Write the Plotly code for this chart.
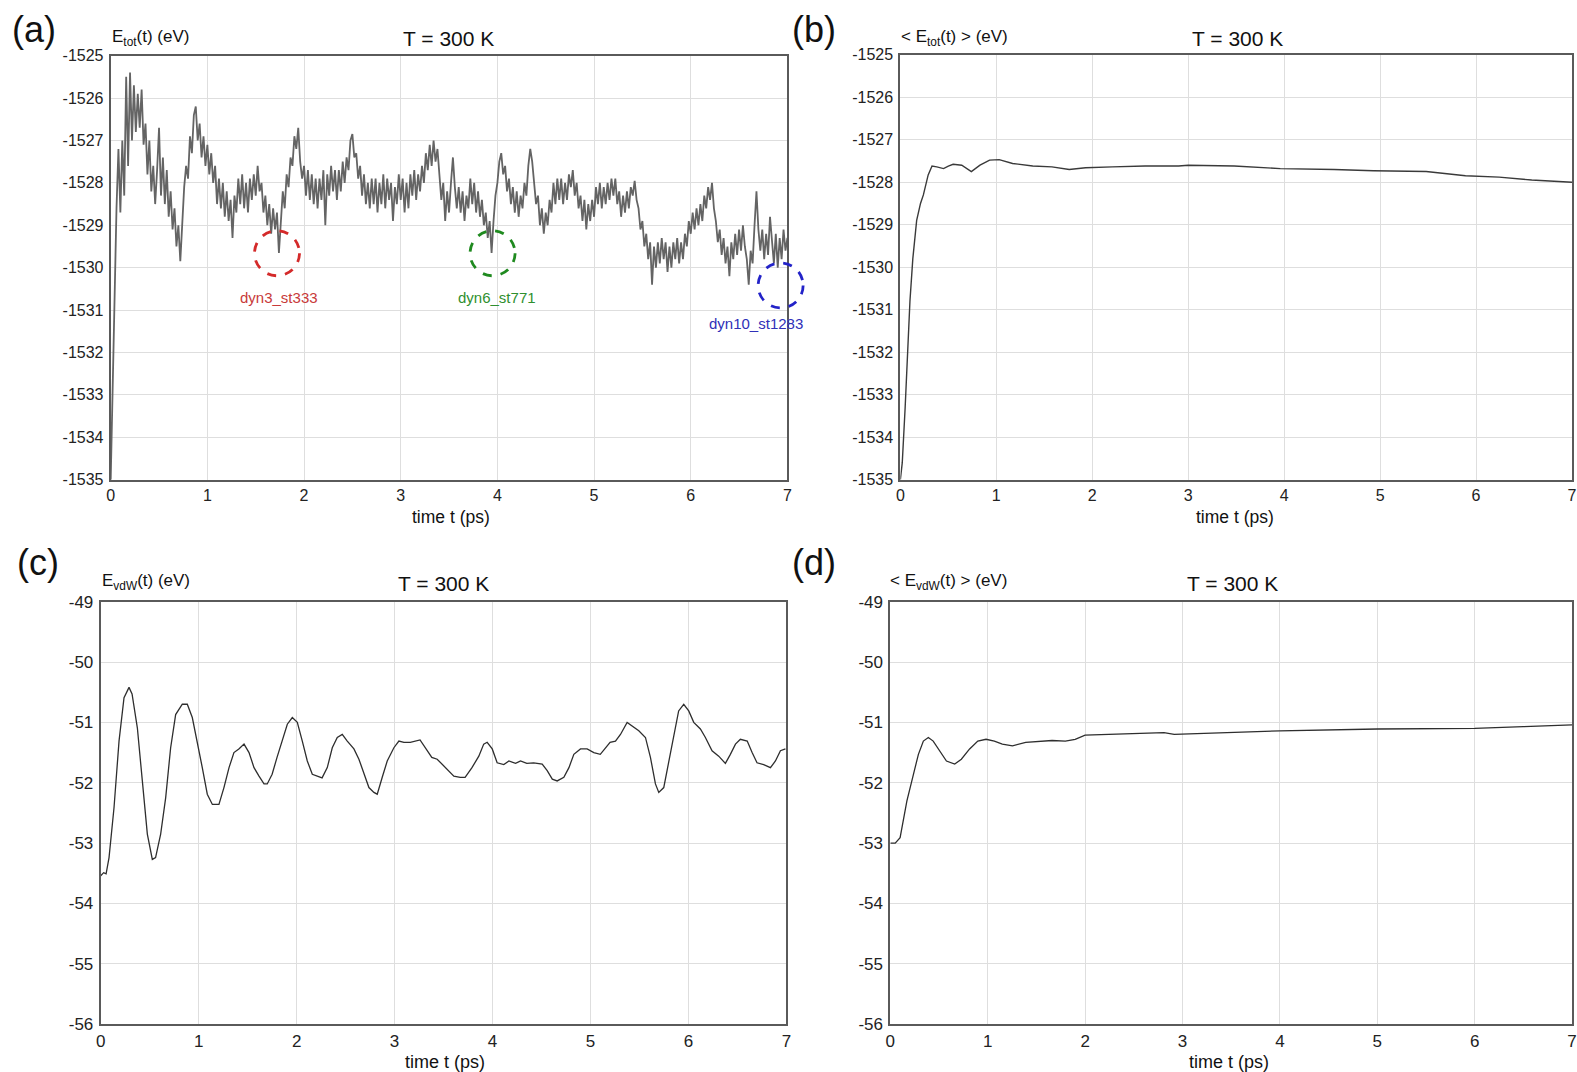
import plotly.graph_objects as go

# ---------------------------------------------------------------------------
# Data (energies in eV, time in ps)
# ---------------------------------------------------------------------------

# (a) instantaneous total energy, sampled every DT_A ps
DT_A = 0.02
e_tot = [
    -1535.0, -1532.8, -1530.6, -1528.6, -1527.2, -1528.7, -1527.0, -1528.3, -1525.5, -1527.6,
    -1525.4, -1527.0, -1525.7, -1526.8, -1525.9, -1526.7, -1525.8, -1527.1, -1526.6, -1527.8,
    -1527.0, -1528.2, -1527.6, -1528.5, -1527.7, -1526.7, -1528.3, -1527.4, -1528.5, -1527.7,
    -1528.8, -1528.2, -1529.1, -1528.6, -1529.5, -1529.0, -1529.85, -1528.9, -1528.1, -1527.6,
    -1527.9, -1526.9, -1527.3, -1526.4, -1526.2, -1527.0, -1526.6, -1527.4, -1526.9, -1527.6,
    -1527.1, -1527.8, -1527.3, -1528.0, -1527.6, -1528.5, -1527.9, -1528.6, -1528.0, -1528.8,
    -1528.2, -1528.9, -1528.4, -1529.3, -1528.3, -1528.7, -1527.9, -1528.5, -1527.8, -1528.6,
    -1528.0, -1528.7, -1527.9, -1528.4, -1527.8, -1528.3, -1527.6, -1528.2, -1528.0, -1528.7,
    -1528.3, -1529.0, -1528.5, -1529.2, -1528.6, -1529.1, -1528.7, -1529.65, -1528.8, -1528.2,
    -1528.6, -1527.8, -1528.1, -1527.4, -1527.6, -1526.9, -1527.2, -1526.7, -1527.5, -1527.9,
    -1527.6, -1528.3, -1527.7, -1528.4, -1527.8, -1528.5, -1527.9, -1528.6, -1527.9, -1528.4,
    -1527.7, -1529.0, -1527.8, -1528.3, -1527.6, -1528.2, -1527.7, -1528.4, -1527.7, -1528.2,
    -1527.5, -1528.0, -1527.4, -1527.7, -1527.0, -1526.85, -1527.4, -1527.3, -1527.9, -1527.6,
    -1528.3, -1527.8, -1528.5, -1528.0, -1528.6, -1527.9, -1528.5, -1527.9, -1528.7, -1528.0,
    -1528.5, -1527.8, -1528.6, -1527.9, -1528.4, -1528.0, -1528.9, -1528.1, -1528.5, -1527.8,
    -1528.4, -1527.9, -1528.7, -1528.0, -1528.6, -1527.8, -1528.3, -1527.7, -1528.4, -1527.8,
    -1528.2, -1527.6, -1528.0, -1527.3, -1527.7, -1527.1, -1527.6, -1527.0, -1527.5, -1527.2,
    -1527.8, -1528.4, -1528.0, -1528.9, -1528.2, -1528.7, -1528.0, -1527.4, -1528.1, -1528.6,
    -1528.1, -1528.7, -1528.2, -1528.9, -1528.3, -1528.6, -1527.9, -1528.5, -1528.0, -1528.7,
    -1528.2, -1528.8, -1528.4, -1529.0, -1528.7, -1529.3, -1528.9, -1529.65, -1528.9, -1528.3,
    -1528.0, -1527.5, -1527.3, -1527.8, -1527.6, -1528.2, -1527.9, -1528.5, -1528.1, -1528.7,
    -1528.2, -1528.8, -1528.3, -1528.6, -1528.0, -1528.3, -1527.6, -1527.2, -1527.5, -1528.0,
    -1528.5, -1528.3, -1529.0, -1528.6, -1529.2, -1528.7, -1529.0, -1528.4, -1528.7, -1528.0,
    -1528.5, -1527.9, -1528.4, -1527.9, -1528.5, -1528.0, -1528.4, -1527.8, -1528.1, -1527.7,
    -1528.3, -1528.0, -1528.6, -1528.3, -1528.9, -1528.4, -1529.1, -1528.5, -1528.9, -1528.4,
    -1528.8, -1528.1, -1528.5, -1528.0, -1528.6, -1528.1, -1528.5, -1528.0, -1528.4, -1527.9,
    -1528.3, -1527.9, -1528.5, -1528.2, -1528.8, -1528.3, -1528.7, -1528.2, -1528.6, -1528.1,
    -1528.3, -1527.95, -1528.4, -1528.6, -1529.1, -1528.9, -1529.5, -1529.2, -1529.8, -1529.4,
    -1530.4, -1529.5, -1530.0, -1529.4, -1529.9, -1529.3, -1529.8, -1529.4, -1530.1, -1529.5,
    -1530.0, -1529.4, -1529.8, -1529.3, -1529.9, -1529.4, -1529.8, -1529.2, -1529.5, -1528.9,
    -1529.2, -1528.7, -1529.1, -1528.6, -1529.0, -1528.5, -1528.9, -1528.3, -1528.6, -1528.1,
    -1528.4, -1528.0, -1528.6, -1528.9, -1529.4, -1529.1, -1529.7, -1529.3, -1529.9, -1529.5,
    -1530.2, -1529.4, -1529.8, -1529.2, -1529.7, -1529.1, -1529.6, -1529.0, -1529.5, -1529.8,
    -1530.4, -1529.6, -1529.9, -1529.0, -1528.2, -1529.1, -1529.6, -1529.1, -1529.8, -1529.2,
    -1529.7, -1528.8, -1529.4, -1529.9, -1529.2, -1530.0, -1529.3, -1529.8, -1529.1, -1529.6,
    -1529.3,
]
t_a = [round(i * DT_A, 2) for i in range(len(e_tot))]

# selected snapshots marked on (a)
snap_names = ["dyn3_st333", "dyn6_st771", "dyn10_st1283"]
snap_t = [1.72, 3.95, 6.93]
snap_e = [-1529.66, -1529.66, -1530.42]
snap_colors = ["#d42a2a", "#1f8a1f", "#2323c8"]
snap_text_colors = ["#c83a3a", "#2f8f2f", "#3030b8"]

# (b) running average of the total energy
t_b = [0.0, 0.02, 0.05, 0.08, 0.10, 0.13, 0.17, 0.21, 0.24, 0.29, 0.33, 0.38, 0.45, 0.50,
       0.55, 0.64, 0.70, 0.74, 0.83, 0.93, 1.03, 1.17, 1.38, 1.58, 1.76, 1.93, 2.21, 2.55,
       2.90, 3.00, 3.48, 3.96, 4.52, 4.93, 5.48, 5.89, 6.24, 6.58, 7.0]
e_tot_avg = [-1535.0, -1534.6, -1533.3, -1531.8, -1530.8, -1529.8, -1528.9, -1528.5, -1528.3,
             -1527.83, -1527.62, -1527.64, -1527.68, -1527.62, -1527.58, -1527.6, -1527.7,
             -1527.75, -1527.6, -1527.48, -1527.47, -1527.56, -1527.62, -1527.64, -1527.70,
             -1527.66, -1527.64, -1527.62, -1527.62, -1527.6, -1527.62, -1527.68, -1527.70,
             -1527.73, -1527.75, -1527.85, -1527.88, -1527.95, -1528.0]

# (c) instantaneous van der Waals energy
t_c = [0.0, 0.03, 0.055, 0.085, 0.136, 0.187, 0.238, 0.289, 0.32, 0.374, 0.425, 0.476, 0.527,
       0.56, 0.612, 0.663, 0.714, 0.765, 0.833, 0.884, 0.935, 0.986, 1.037, 1.088, 1.14,
       1.207, 1.258, 1.31, 1.36, 1.41, 1.463, 1.514, 1.565, 1.616, 1.667, 1.70, 1.75, 1.80,
       1.854, 1.905, 1.956, 2.007, 2.058, 2.109, 2.16, 2.21, 2.26, 2.313, 2.364, 2.415,
       2.466, 2.517, 2.585, 2.636, 2.687, 2.738, 2.789, 2.823, 2.874, 2.925, 2.993, 3.044,
       3.095, 3.16, 3.26, 3.32, 3.38, 3.435, 3.52, 3.605, 3.67, 3.72, 3.79, 3.86, 3.91,
       3.945, 3.997, 4.047, 4.115, 4.167, 4.235, 4.286, 4.35, 4.42, 4.507, 4.558, 4.61,
       4.66, 4.728, 4.78, 4.83, 4.898, 4.966, 5.034, 5.1, 5.153, 5.2, 5.255, 5.306, 5.374,
       5.425, 5.493, 5.561, 5.612, 5.663, 5.697, 5.748, 5.8, 5.85, 5.9, 5.952, 6.003,
       6.054, 6.122, 6.173, 6.241, 6.309, 6.377, 6.428, 6.48, 6.53, 6.6, 6.65, 6.7, 6.768,
       6.837, 6.888, 6.939, 6.99]
e_vdw = [-53.54, -53.49, -53.51, -53.24, -52.41, -51.31, -50.59, -50.42, -50.53, -51.09,
         -51.97, -52.85, -53.27, -53.24, -52.85, -52.25, -51.42, -50.87, -50.70, -50.70,
         -50.92, -51.31, -51.75, -52.19, -52.36, -52.36, -52.08, -51.75, -51.50, -51.44,
         -51.36, -51.50, -51.75, -51.89, -52.02, -52.02, -51.86, -51.58, -51.31, -51.03,
         -50.92, -51.00, -51.31, -51.64, -51.86, -51.89, -51.92, -51.75, -51.42, -51.25,
         -51.20, -51.31, -51.44, -51.61, -51.86, -52.08, -52.16, -52.19, -51.91, -51.64,
         -51.42, -51.31, -51.33, -51.33, -51.29, -51.44, -51.58, -51.61, -51.75, -51.89,
         -51.91, -51.91, -51.75, -51.56, -51.36, -51.33, -51.44, -51.67, -51.70, -51.64,
         -51.68, -51.64, -51.68, -51.67, -51.69, -51.80, -51.94, -51.97, -51.91, -51.75,
         -51.53, -51.44, -51.44, -51.50, -51.53, -51.42, -51.33, -51.31, -51.20, -51.00,
         -51.06, -51.14, -51.25, -51.58, -52.02, -52.16, -52.08, -51.64, -51.20, -50.81,
         -50.70, -50.81, -51.00, -51.11, -51.25, -51.47, -51.56, -51.68, -51.53, -51.36,
         -51.28, -51.31, -51.50, -51.67, -51.70, -51.75, -51.64, -51.47, -51.44]

# (d) running average of the van der Waals energy
t_d = [0.0, 0.05, 0.10, 0.17, 0.237, 0.288, 0.339, 0.39, 0.44, 0.508, 0.576, 0.661, 0.729,
       0.814, 0.898, 0.983, 1.068, 1.15, 1.254, 1.39, 1.525, 1.661, 1.797, 1.898, 2.0,
       2.17, 2.373, 2.54, 2.71, 2.81, 2.915, 3.085, 4.0, 5.0, 6.0, 6.5, 7.0]
e_vdw_avg = [-53.0, -53.0, -52.91, -52.30, -51.86, -51.53, -51.31, -51.25, -51.31, -51.47,
             -51.64, -51.69, -51.61, -51.44, -51.31, -51.28, -51.31, -51.36, -51.39, -51.33,
             -51.31, -51.30, -51.31, -51.28, -51.21, -51.20, -51.19, -51.18, -51.17, -51.17,
             -51.20, -51.19, -51.14, -51.11, -51.10, -51.07, -51.04]

# axis ticks
x_ticks = [0, 1, 2, 3, 4, 5, 6, 7]
y_ticks_tot = [-1535, -1534, -1533, -1532, -1531, -1530, -1529, -1528, -1527, -1526, -1525]
y_ticks_vdw = [-56, -55, -54, -53, -52, -51, -50, -49]

# ---------------------------------------------------------------------------
# Figure layout
# ---------------------------------------------------------------------------
W, H = 1577, 1072
FONT = "Liberation Sans, Arial, sans-serif"
X_RANGE = [0, 7]

# calibration between page pixels and figure pixels (offset, scale)
CAL_X = (4.25, 0.9941)
CAL_Y = (8.32, 0.9823)


def fx(p):
    v = (p - CAL_X[0]) / CAL_X[1] / W
    return min(max(v, 0.0), 1.0)


def fy(p):
    v = 1 - (p - CAL_Y[0]) / CAL_Y[1] / H
    return min(max(v, 0.0), 1.0)


# plot boxes in page pixels: (left, right, top, bottom)
boxes = {
    "a": (110, 787, 55, 479),
    "b": (900, 1577, 54, 479),
    "c": (100, 786, 601, 1023.5),
    "d": (890, 1577, 601, 1023.5),
}

fig = go.Figure()

fig.add_trace(go.Scatter(x=t_a, y=e_tot, mode="lines",
                         line=dict(color="#646464", width=1.8),
                         xaxis="x", yaxis="y", showlegend=False))
fig.add_trace(go.Scatter(x=t_b, y=e_tot_avg, mode="lines",
                         line=dict(color="#3a3a3a", width=1.4),
                         xaxis="x2", yaxis="y2", showlegend=False))
fig.add_trace(go.Scatter(x=t_c, y=e_vdw, mode="lines",
                         line=dict(color="#2e2e2e", width=1.3),
                         xaxis="x3", yaxis="y3", showlegend=False))
fig.add_trace(go.Scatter(x=t_d, y=e_vdw_avg, mode="lines",
                         line=dict(color="#2e2e2e", width=1.3),
                         xaxis="x4", yaxis="y4", showlegend=False))

axis_common = dict(
    showgrid=True, gridcolor="#dedede", gridwidth=1,
    showline=True, linecolor="#5a5a5a", linewidth=2, mirror=True,
    zeroline=False, ticks="",
)

layout = dict(
    width=W, height=H,
    margin=dict(l=0, r=0, t=0, b=0),
    paper_bgcolor="white", plot_bgcolor="white",
    showlegend=False,
)

names = ["a", "b", "c", "d"]
for k, key in enumerate(names):
    l, r, t, b = boxes[key]
    sfx = "" if k == 0 else str(k + 1)
    top_row = key in ("a", "b")
    yt = y_ticks_tot if top_row else y_ticks_vdw
    fsize = 16 if top_row else 17
    layout["xaxis" + sfx] = dict(
        axis_common, domain=[fx(l), fx(r)], range=X_RANGE,
        tickvals=x_ticks, ticktext=[str(v) for v in x_ticks],
        ticklabelstandoff=0,
        tickfont=dict(family=FONT, size=fsize, color="#222222"),
        anchor="y" + sfx,
    )
    layout["yaxis" + sfx] = dict(
        axis_common, domain=[fy(b), fy(t)], range=[yt[0], yt[-1]],
        tickvals=yt, ticktext=[str(v) for v in yt],
        ticklabelstandoff=2,
        tickfont=dict(family=FONT, size=fsize, color="#222222"),
        anchor="x" + sfx,
    )

fig.update_layout(**layout)

# ---------------------------------------------------------------------------
# Text: panel letters, axis titles, temperature labels
# ---------------------------------------------------------------------------
ann = []


def text(x, y, s, size, xanchor="left", yanchor="middle", color="#111111"):
    ann.append(dict(x=fx(x), y=fy(y), xref="paper", yref="paper", text=s,
                    showarrow=False, xanchor=xanchor, yanchor=yanchor,
                    font=dict(family=FONT, size=size, color=color)))


panel_letters = ["(a)", "(b)", "(c)", "(d)"]
letter_pos = [(9, 29), (790, 29), (14, 562), (790, 562)]
for s, (x, y) in zip(panel_letters, letter_pos):
    text(x, y, s, 36)

y_titles = ["E<sub>tot</sub>(t) (eV)", "&lt; E<sub>tot</sub>(t) &gt; (eV)",
            "E<sub>vdW</sub>(t) (eV)", "&lt; E<sub>vdW</sub>(t) &gt; (eV)"]
y_title_pos = [(109, 37), (899, 37), (99, 581), (888, 581)]
for s, (x, y) in zip(y_titles, y_title_pos):
    text(x, y, s, 17)

temp_label = "T = 300 K"
temp_pos = [(448, 38), (1237, 38), (443, 583), (1232, 583)]
for x, y in temp_pos:
    text(x, y, temp_label, 21, xanchor="center")

x_title = "time t (ps)"
x_title_pos = [(450, 516), (1235, 516), (444, 1062), (1229, 1062)]
x_title_size = [17.5, 17.5, 18, 18]
for (x, y), sz in zip(x_title_pos, x_title_size):
    text(x, y, x_title, sz, xanchor="center")

# snapshot markers on (a): dashed circles (drawn in axis-domain units so they
# may spill past the frame) with the snapshot names below them
ya_range = [y_ticks_tot[0], y_ticks_tot[-1]]
shapes = []
label_shift = [(2, -44), (4, -44), (-25, -38)]
for name, tt, ee, c, tc, (dx, dy) in zip(snap_names, snap_t, snap_e, snap_colors,
                                         snap_text_colors, label_shift):
    xd = (tt - X_RANGE[0]) / (X_RANGE[1] - X_RANGE[0])
    yd = (ee - ya_range[0]) / (ya_range[1] - ya_range[0])
    shapes.append(dict(type="circle", xref="x domain", yref="y domain",
                       xsizemode="pixel", ysizemode="pixel",
                       xanchor=xd, yanchor=yd, x0=-22.5, x1=22.5, y0=-22.5, y1=22.5,
                       line=dict(color=c, width=2.8, dash="dash")))
    ann.append(dict(x=tt, y=ee, xref="x", yref="y", text=name, showarrow=False,
                    xanchor="center", yanchor="middle", xshift=dx, yshift=dy,
                    font=dict(family=FONT, size=15, color=tc)))

fig.update_layout(annotations=ann, shapes=shapes)

fig.write_html("out.html")
